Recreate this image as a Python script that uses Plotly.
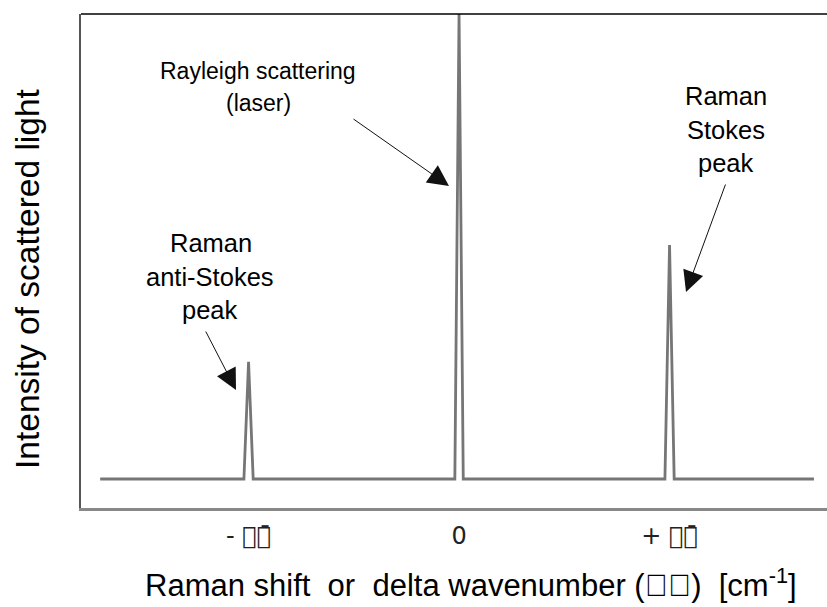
import plotly.graph_objects as go

# Spectrum data (relative shift units, relative intensity)
shift = [-1.705, -1.022, -1.0, -0.978, -0.02, 0.0, 0.02, 0.978, 1.0, 1.022, 1.686]
intensity = [0.0, 0.0, 0.252, 0.0, 0.0, 1.0, 0.0, 0.0, 0.503, 0.0, 0.0]

tick_vals = [-1, 0, 1]
tick_text = ["- \uf044\uf06e\u0304", "0", "+ \uf044\uf06e\u0304"]

x_range = [-1.796, 1.748]
y_range = [-0.0624, 1.0]

L, R, T, B = 81, 0, 14, 99
W, H = 827, 607
pw, ph = W - L - R, H - T - B


def px(x):
    return (x - L) / pw


def py(y):
    return (H - B - y) / ph


fig = go.Figure()
fig.add_trace(go.Scatter(x=shift, y=intensity, mode="lines",
                         line=dict(color="#767676", width=2.8),
                         hoverinfo="skip", showlegend=False))

FAM = "Liberation Sans, Arial, sans-serif"
ann = []
# text blocks (one line per annotation to control spacing)
for text, cx, cy, fs in [
    ("Rayleigh scattering", 258, 71, 23), ("(laser)", 258, 103, 23),
    ("Raman", 726, 96, 25.5), ("Stokes", 726, 130, 25.5), ("peak", 726, 163, 25.5),
    ("Raman", 211, 243, 25.5), ("anti-Stokes", 210, 277, 25.5), ("peak", 210, 310, 25.5),
]:
    ann.append(dict(text=text, x=px(cx), y=py(cy), xref="paper", yref="paper",
                    showarrow=False, font=dict(family=FAM, size=fs, color="#000"),
                    xanchor="center", yanchor="middle"))

# arrows: tip in pixels, tail offset in pixels
for tx, ty, ax, ay in [(449, 186, -97, -68), (686, 292, 40, -109), (236, 390, -31, -60)]:
    ann.append(dict(text="", x=px(tx), y=py(ty), xref="paper", yref="paper",
                    showarrow=True, ax=ax, ay=ay, arrowhead=2, arrowsize=4.2,
                    arrowwidth=1.0, arrowcolor="#111", standoff=0))

# axis titles
ann.append(dict(text="Raman shift\u00a0 or\u00a0 delta wavenumber (\uf044\uf06e)\u00a0 [cm<sup>-1</sup>]",
                x=px(471), y=py(583), xref="paper", yref="paper", showarrow=False,
                font=dict(family=FAM, size=31, color="#000"),
                xanchor="center", yanchor="middle"))
ann.append(dict(text="Intensity of scattered light", x=px(27), y=py(279),
                xref="paper", yref="paper", showarrow=False, textangle=-90,
                font=dict(family=FAM, size=33.5, color="#000"),
                xanchor="center", yanchor="middle"))

fig.update_layout(
    width=W, height=H,
    margin=dict(l=L, r=R, t=T, b=B),
    paper_bgcolor="white", plot_bgcolor="white",
    annotations=ann,
    shapes=[dict(type="line", xref="paper", yref="paper", x0=0, x1=1, y0=1, y1=1,
                 line=dict(color="#000", width=1.5))],
    xaxis=dict(range=x_range, showgrid=False, zeroline=False,
               showline=True, linecolor="#888", linewidth=3,
               tickvals=tick_vals, ticktext=tick_text, ticks="",
               ticklabelstandoff=4,
               tickfont=dict(family="DejaVu Sans", size=24, color="#222")),
    yaxis=dict(range=y_range, showgrid=False, zeroline=False,
               showline=True, linecolor="#555", linewidth=2,
               showticklabels=False, ticks=""),
)

fig.write_html("out.html")
